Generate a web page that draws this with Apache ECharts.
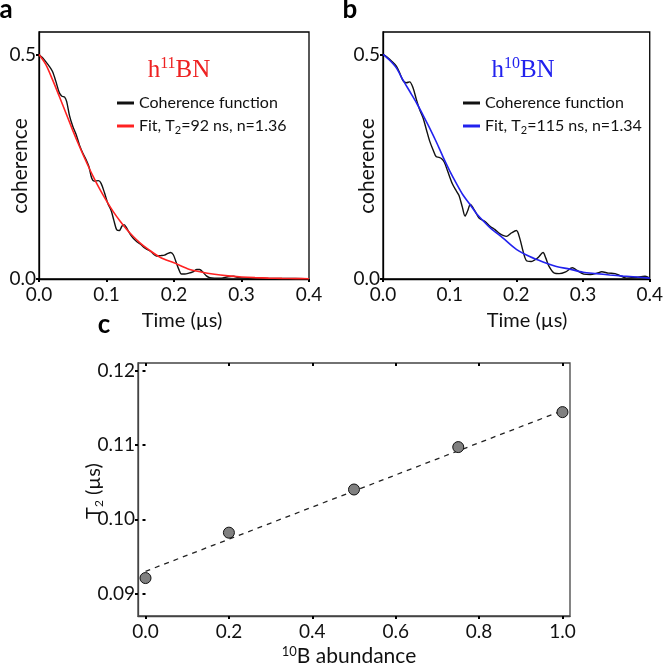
<!DOCTYPE html>
<html><head><meta charset="utf-8">
<script src="https://cdn.jsdelivr.net/npm/echarts@6/dist/echarts.min.js"></script>
<style>html,body{margin:0;padding:0;background:#fff}#c{width:666px;height:669px}</style>
</head><body><div id="c"></div>
<script>
// ---- data ----
const timeTicks = [0, 0.1, 0.2, 0.3, 0.4];
const coherenceTicks = [0, 0.5];
const coherenceA = [[0,0.5],[0.005,0.493],[0.01,0.484],[0.015,0.474],[0.02,0.462],[0.025,0.44],[0.03,0.415],[0.034,0.407],[0.038,0.405],[0.041,0.395],[0.045,0.365],[0.05,0.34],[0.055,0.322],[0.06,0.298],[0.065,0.28],[0.07,0.265],[0.074,0.25],[0.078,0.225],[0.082,0.218],[0.088,0.219],[0.092,0.213],[0.097,0.192],[0.102,0.168],[0.107,0.152],[0.111,0.13],[0.115,0.11],[0.119,0.108],[0.123,0.118],[0.126,0.121],[0.13,0.113],[0.135,0.1],[0.14,0.09],[0.145,0.083],[0.15,0.078],[0.155,0.071],[0.16,0.066],[0.165,0.062],[0.17,0.055],[0.174,0.051],[0.18,0.052],[0.186,0.053],[0.191,0.057],[0.195,0.059],[0.199,0.054],[0.203,0.038],[0.207,0.022],[0.211,0.011],[0.216,0.011],[0.222,0.013],[0.228,0.016],[0.234,0.021],[0.238,0.021],[0.243,0.015],[0.248,0.007],[0.253,0.003],[0.26,0.002],[0.27,0.002],[0.28,0.005],[0.288,0.006],[0.296,0.003],[0.31,0.002],[0.33,0.002],[0.35,0.001],[0.38,0.001],[0.4,0]];
const coherenceB = [[0,0.5],[0.006,0.494],[0.013,0.485],[0.02,0.474],[0.025,0.459],[0.03,0.442],[0.035,0.437],[0.04,0.439],[0.045,0.426],[0.05,0.4],[0.055,0.377],[0.06,0.359],[0.065,0.333],[0.07,0.307],[0.075,0.288],[0.08,0.272],[0.084,0.271],[0.088,0.268],[0.092,0.26],[0.097,0.24],[0.104,0.212],[0.11,0.196],[0.114,0.186],[0.119,0.16],[0.123,0.14],[0.127,0.152],[0.131,0.166],[0.138,0.151],[0.144,0.136],[0.153,0.128],[0.161,0.117],[0.168,0.11],[0.175,0.101],[0.185,0.095],[0.193,0.103],[0.2,0.108],[0.205,0.091],[0.21,0.062],[0.215,0.041],[0.222,0.039],[0.232,0.047],[0.24,0.059],[0.244,0.047],[0.249,0.028],[0.257,0.013],[0.264,0.012],[0.274,0.016],[0.284,0.025],[0.291,0.019],[0.301,0.011],[0.311,0.01],[0.321,0.013],[0.328,0.016],[0.338,0.013],[0.348,0.012],[0.356,0.007],[0.365,0.002],[0.38,0.004],[0.393,0.006],[0.4,0.002]];
const fitTimes = [0,0.01,0.02,0.03,0.04,0.05,0.06,0.07,0.08,0.09,0.10,0.11,0.12,0.13,0.14,0.15,0.16,0.18,0.20,0.22,0.24,0.26,0.28,0.30,0.32,0.34,0.36,0.38,0.40];
const fitAValues = [0.5,0.478,0.444,0.407,0.369,0.331,0.295,0.261,0.229,0.2,0.174,0.15,0.129,0.11,0.094,0.08,0.068,0.048,0.036,0.023,0.0157,0.0105,0.007,0.0046,0.003,0.002,0.0013,0.0009,0.0006];
const fitBValues = [0.5,0.487,0.47,0.443,0.418,0.393,0.365,0.336,0.305,0.272,0.241,0.213,0.187,0.167,0.146,0.13,0.115,0.091,0.066,0.05,0.038,0.028,0.022,0.015,0.012,0.009,0.0065,0.0045,0.002];
const abundance = [0, 0.2, 0.5, 0.75, 1.0];
const t2Values = [0.0921, 0.0982, 0.1040, 0.1097, 0.1144];
const trendX = [0, 1];
const trendY = [0.0930, 0.1146];
const abundanceTicks = [0, 0.2, 0.4, 0.6, 0.8, 1.0];
const t2Ticks = [0.09, 0.10, 0.11, 0.12];

const nameCoh = 'Coherence function';
const nameFitA = 'Fit, T2=92 ns, n=1.36';
const nameFitB = 'Fit, T2=115 ns, n=1.34';

const SANS = 'Lato';
const SERIF = 'Liberation Serif';

function mainAxis(grid, min, max, ticks, dec, lineColor, margin) {
  return {
    type: 'value', gridIndex: grid, min: min, max: max,
    axisLine: { show: true, onZero: false, lineStyle: { color: lineColor, width: 1.3 } },
    axisTick: { show: true, inside: false, length: 3, customValues: ticks, lineStyle: { color: '#000', width: 2 } },
    axisLabel: { show: true, customValues: ticks, margin: margin, fontFamily: SANS, fontSize: 19, color: '#111',
      formatter: v => Number(v).toFixed(dec) },
    splitLine: { show: false }
  };
}
function innerAxis(grid, min, max, ticks) {
  return {
    type: 'value', gridIndex: grid, min: min, max: max,
    axisLine: { show: false },
    axisTick: { show: true, inside: true, length: 3, customValues: ticks, lineStyle: { color: '#000', width: 2 } },
    axisLabel: { show: false },
    splitLine: { show: false }
  };
}
function pairs(xs, ys) { return xs.map((x, i) => [x, ys[i]]); }

const legendRich = {
  n: { fontFamily: SANS, fontSize: 16, color: '#111', lineHeight: 20 },
  s: { fontFamily: SANS, fontSize: 11, color: '#111', lineHeight: 9, verticalAlign: 'bottom' }
};
function legendFmt(name) {
  const i = name.indexOf('T2');
  if (i < 0) return '{n|' + name + '}';
  return '{n|' + name.slice(0, i + 1) + '}{s|2}{n|' + name.slice(i + 2) + '}';
}
function txt(x, y, text, size, rot, extra) {
  return Object.assign({ type: 'text', x: x, y: y, rotation: rot || 0,
    style: { text: text, fontFamily: SANS, fontSize: size, fill: '#111', align: 'center', verticalAlign: 'middle' } }, extra || {});
}
const subRich = (size) => ({
  n: { fontFamily: SANS, fontSize: size, fill: '#111', color: '#111', lineHeight: 22 },
  s: { fontFamily: SANS, fontSize: Math.round(size * 0.62), fill: '#111', color: '#111', lineHeight: 10, verticalAlign: 'bottom' },
  p: { fontFamily: SANS, fontSize: Math.round(size * 0.62), fill: '#111', color: '#111', lineHeight: 10, verticalAlign: 'top' }
});
const titleRich = (col) => ({
  m: { fontFamily: SERIF, fontSize: 25, fill: col, color: col, lineHeight: 28 },
  p: { fontFamily: SERIF, fontSize: 16, fill: col, color: col, lineHeight: 13, verticalAlign: 'top' }
});

const chart = echarts.init(document.getElementById('c'), null, { renderer: 'canvas' });
const option = {
  animation: false,
  backgroundColor: '#fff',
  grid: [
    { left: 39, top: 32, width: 270, height: 247, show: true, borderColor: '#000', borderWidth: 1.3 },
    { left: 383, top: 32, width: 271, height: 247, show: true, borderColor: '#000', borderWidth: 1.3 },
    { left: 138, top: 363, width: 432, height: 253, show: true, borderColor: '#444', borderWidth: 1.3 }
  ],
  xAxis: [
    mainAxis(0, 0, 0.4, timeTicks, 1, '#000', 6),
    mainAxis(1, 0, 0.4, timeTicks, 1, '#000', 6),
    mainAxis(2, -0.018, 1.018, abundanceTicks, 1, '#444', 6),
    innerAxis(0, 0, 0.4, timeTicks),
    innerAxis(1, 0, 0.4, timeTicks),
    innerAxis(2, -0.018, 1.018, abundanceTicks)
  ],
  yAxis: [
    mainAxis(0, 0, 0.55, coherenceTicks, 1, '#000', 3),
    mainAxis(1, 0, 0.55, coherenceTicks, 1, '#000', 3),
    mainAxis(2, 0.087, 0.121, t2Ticks, 2, '#444', 3),
    innerAxis(0, 0, 0.55, coherenceTicks),
    innerAxis(1, 0, 0.55, coherenceTicks),
    innerAxis(2, 0.087, 0.121, t2Ticks)
  ],
  legend: [
    { data: [nameCoh, nameFitA], left: 112, top: 90, orient: 'vertical', itemGap: 7, itemWidth: 17, itemHeight: 3,
      icon: 'rect', selectedMode: false, formatter: legendFmt, textStyle: { rich: legendRich, fontFamily: SANS, fontSize: 16 } },
    { data: [nameCoh, nameFitB], left: 458, top: 90, orient: 'vertical', itemGap: 7, itemWidth: 17, itemHeight: 3,
      icon: 'rect', selectedMode: false, formatter: legendFmt, textStyle: { rich: legendRich, fontFamily: SANS, fontSize: 16 } }
  ],
  series: [
    { name: nameCoh, type: 'line', xAxisIndex: 0, yAxisIndex: 0, data: coherenceA, symbol: 'none', smooth: 0.3,
      color: '#111', lineStyle: { color: '#111', width: 1.4 }, z: 2 },
    { name: nameFitA, type: 'line', xAxisIndex: 0, yAxisIndex: 0, data: pairs(fitTimes, fitAValues), symbol: 'none', smooth: 0.3,
      color: '#ff2222', lineStyle: { color: '#ff2222', width: 1.6 }, z: 3 },
    { name: nameCoh, type: 'line', xAxisIndex: 1, yAxisIndex: 1, data: coherenceB, symbol: 'none', smooth: 0.3,
      color: '#111', lineStyle: { color: '#111', width: 1.4 }, z: 2 },
    { name: nameFitB, type: 'line', xAxisIndex: 1, yAxisIndex: 1, data: pairs(fitTimes, fitBValues), symbol: 'none', smooth: 0.3,
      color: '#2222ee', lineStyle: { color: '#2222ee', width: 1.6 }, z: 3 },
    { name: 'trend', type: 'line', xAxisIndex: 2, yAxisIndex: 2, data: pairs(trendX, trendY), symbol: 'none',
      lineStyle: { color: '#222', width: 1.3, type: [5, 5] }, z: 2 },
    { name: 'T2', type: 'scatter', xAxisIndex: 2, yAxisIndex: 2, data: pairs(abundance, t2Values), symbolSize: 11,
      itemStyle: { color: '#808080', borderColor: '#111', borderWidth: 1, opacity: 1 }, z: 4 }
  ],
  graphic: [
    { type: 'text', x: 6, y: 10, style: { text: 'a', fontFamily: SANS, fontWeight: 'bold', fontSize: 26, fill: '#000', align: 'center', verticalAlign: 'middle' } },
    { type: 'text', x: 350, y: 10, style: { text: 'b', fontFamily: SANS, fontWeight: 'bold', fontSize: 26, fill: '#000', align: 'center', verticalAlign: 'middle' } },
    { type: 'text', x: 104, y: 325, style: { text: 'c', fontFamily: SANS, fontWeight: 'bold', fontSize: 26, fill: '#000', align: 'center', verticalAlign: 'middle' } },
    { type: 'text', x: 179, y: 70, style: { text: '{m|h}{p|11}{m|BN}', align: 'center', verticalAlign: 'middle', rich: titleRich('#ee2222') } },
    { type: 'text', x: 523, y: 70, style: { text: '{m|h}{p|10}{m|BN}', align: 'center', verticalAlign: 'middle', rich: titleRich('#2222ee') } },
    txt(20, 166, 'coherence', 21, Math.PI / 2),
    txt(367, 166, 'coherence', 21, Math.PI / 2),
    txt(182, 321, 'Time (\u00b5s)', 20),
    txt(527, 321, 'Time (\u00b5s)', 20),
    { type: 'text', x: 94, y: 491, rotation: Math.PI / 2, style: { text: '{n|T}{s|2}{n| (\u00b5s)}', align: 'center', verticalAlign: 'middle', rich: subRich(20) } },
    { type: 'text', x: 349, y: 656, style: { text: '{p|10}{n|B abundance}', align: 'center', verticalAlign: 'middle', rich: subRich(21) } }
  ]
};
chart.setOption(option);
</script>
</body></html>
